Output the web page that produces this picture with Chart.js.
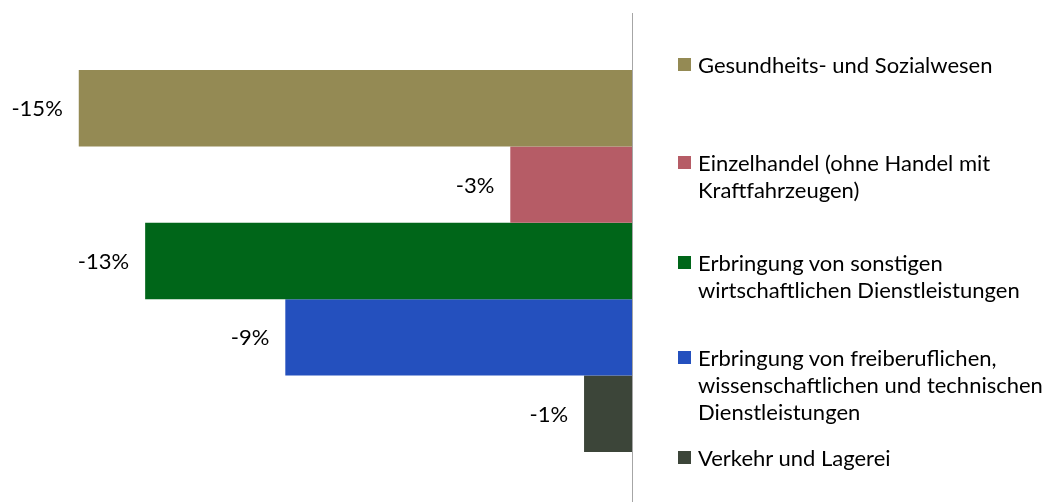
<!DOCTYPE html>
<html>
<head>
<meta charset="utf-8">
<script src="https://cdn.jsdelivr.net/npm/chart.js@4/dist/chart.umd.min.js"></script>
<style>
  html, body { margin: 0; padding: 0; background: #fff; }
  #wrap { position: relative; width: 1053px; height: 502px; overflow: hidden; }
  #chart { position: absolute; left: 0; top: 0; }
  #legend { position: absolute; left: 678px; top: 0; font-family: Lato, sans-serif; font-size: 22px; color: #000; }
  .item { position: absolute; left: 0; width: 375px; line-height: 27px; white-space: nowrap; }
  .box { position: absolute; left: 0; top: 7px; width: 13px; height: 13px; }
  .txt { position: absolute; left: 20px; top: 0; }
</style>
</head>
<body>
<div id="wrap">
  <!-- canvas a bit taller than the page, the axis runs off the bottom edge -->
  <canvas id="chart" width="1053" height="509"></canvas>
  <div id="legend"></div>
</div>
<script>
// Branchen und Veränderung (Anteil)
const branchen = [
    ['Gesundheits- und Sozialwesen'],
    ['Einzelhandel (ohne Handel mit', 'Kraftfahrzeugen)'],
    ['Erbringung von sonstigen', 'wirtschaftlichen Dienstleistungen'],
    ['Erbringung von freiberuflichen,', 'wissenschaftlichen und technischen', 'Dienstleistungen'],
    ['Verkehr und Lagerei']
];
const werte = [-0.150, -0.033, -0.132, -0.094, -0.013];
const farben = ['#948a54', '#b65c66', '#006619', '#2450be', '#3c4539'];
// top of each legend entry
const legendTop = [51, 149, 249, 344, 444];

const datasets = branchen.map((name, i) => ({
    label: name.join(' '),
    data: [werte[i]],
    backgroundColor: farben[i],
    borderWidth: 0
}));

// labels like "-15%" left of each bar
const valueLabels = {
    id: 'valueLabels',
    afterDatasetsDraw(chart) {
        const ctx = chart.ctx;
        ctx.save();
        ctx.font = '22px Lato, sans-serif';
        ctx.fillStyle = '#000';
        ctx.textAlign = 'right';
        ctx.textBaseline = 'middle';
        chart.data.datasets.forEach((ds, i) => {
            const bar = chart.getDatasetMeta(i).data[0];
            const txt = Math.round(ds.data[0] * 100) + '%';
            ctx.fillText(txt, bar.x - 16, bar.y + 1);
        });
        ctx.restore();
    }
};

new Chart(document.getElementById('chart').getContext('2d'), {
    type: 'bar',
    data: {
        labels: [''],
        datasets: datasets
    },
    options: {
        indexAxis: 'y',
        responsive: false,
        animation: false,
        layout: {
            padding: { left: 5, right: 413, top: 13, bottom: 0 }
        },
        datasets: {
            bar: {
                categoryPercentage: 0.77,
                barPercentage: 1.0
            }
        },
        scales: {
            x: {
                display: false,
                min: -0.17,
                max: 0
            },
            y: {
                position: 'right',
                grid: { display: false },
                border: { display: true, color: '#a6a6a6', width: 1 },
                ticks: { display: false }
            }
        },
        plugins: {
            legend: { display: false },
            tooltip: { enabled: false }
        }
    },
    plugins: [valueLabels]
});

// HTML legend with wrapped entries
const legend = document.getElementById('legend');
branchen.forEach((lines, i) => {
    const item = document.createElement('div');
    item.className = 'item';
    item.style.top = legendTop[i] + 'px';
    const box = document.createElement('div');
    box.className = 'box';
    box.style.background = farben[i];
    const txt = document.createElement('div');
    txt.className = 'txt';
    txt.innerHTML = lines.join('<br>');
    item.appendChild(box);
    item.appendChild(txt);
    legend.appendChild(item);
});
</script>
</body>
</html>
